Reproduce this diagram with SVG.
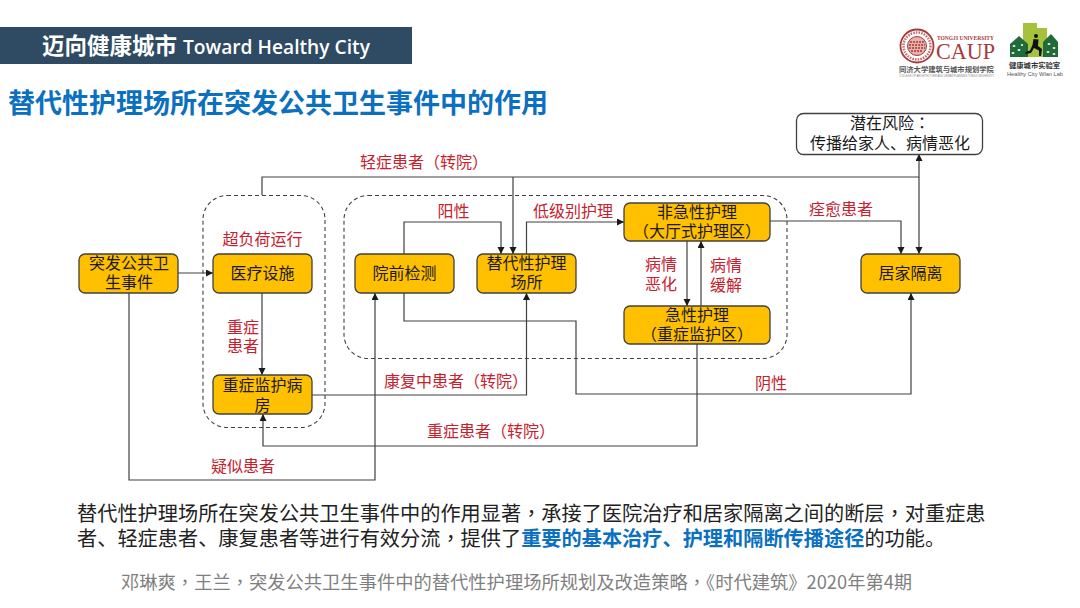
<svg xmlns="http://www.w3.org/2000/svg" width="1080" height="608" viewBox="0 0 1080 608">
<style>
text{font-family:"Noto Sans CJK SC","Liberation Sans",sans-serif}
.n{fill:#ffc000;stroke:#404040;stroke-width:1.3}
.t{font-size:16px;fill:#1a1a1a;text-anchor:middle}
.r{font-size:16px;fill:#c8202c;text-anchor:middle}
.c{fill:none;stroke:#404040;stroke-width:1.2}
.d{fill:none;stroke:#404040;stroke-width:1.1;stroke-dasharray:4 3}
.p{font-family:"Noto Sans CJK TC",sans-serif}
.lf{fill:#e6f0d8}
</style>
<defs>
<marker id="a" markerWidth="8" markerHeight="8" refX="7" refY="3.500" orient="auto" markerUnits="userSpaceOnUse"><path d="M0 0L7 3.500L0 7z" fill="#1a1a1a"/></marker>
</defs>
<rect width="1080" height="608" fill="#fff"/>
<g id="header">
<rect x="0" y="27" width="412" height="37" fill="#2f4a63"/>
<text x="42" y="53.500" font-size="22.500" font-weight="700" fill="#fff">迈向健康城市<tspan font-family="'Open Sans','Liberation Sans',sans-serif" font-size="19.200" font-weight="600" dx="6">Toward Healthy City</tspan></text>
<text x="8" y="113" font-size="27" font-weight="700" fill="#0b70c0">替代性护理场所在突发公共卫生事件中的作用</text>
</g>
<g id="logos">
<circle cx="917" cy="46" r="16.500" fill="#fff" stroke="#a8393a" stroke-width="1.800"/>
<circle cx="917" cy="46" r="13.500" fill="none" stroke="#c06a6a" stroke-width="2.500" stroke-dasharray="1.500 1.200"/>
<circle cx="917" cy="46" r="9.500" fill="#e3b3ac" stroke="#a8393a"/>
<path d="M910 42h14M909 45h16M909 48h16M911 51h12" stroke="#a8393a" stroke-width="1.300" stroke-dasharray="2 1" fill="none"/>
<text x="937" y="39.500" font-size="6" font-weight="700" fill="#a8393a" style="font-family:'Liberation Serif',serif" textLength="57" lengthAdjust="spacingAndGlyphs">TONGJI UNIVERSITY</text>
<text x="936" y="59" font-size="24" fill="#a8393a" style="font-family:'Liberation Serif',serif" textLength="59" lengthAdjust="spacingAndGlyphs">CAUP</text>
<text x="899" y="72" font-size="7.300" font-weight="700" fill="#555">同济大学建筑与城市规划学院</text>
<text x="899" y="76.500" font-size="3" fill="#888" style="font-family:'Liberation Sans',sans-serif" textLength="95" lengthAdjust="spacingAndGlyphs">COLLEGE OF ARCHITECTURE AND URBAN PLANNING TONGJI UNIVERSITY</text>
<rect x="1023" y="23" width="14" height="34" fill="#a6c13c"/>
<rect x="1037" y="28" width="10" height="29" fill="#a6c13c"/>
<path d="M1010 57V44L1019 36L1028 44V57z" fill="#1f6b3a"/>
<path d="M1043 57V42L1051 34L1058 42V57z" fill="#1f6b3a"/>
<ellipse class="lf" cx="1014" cy="46" rx="1.500" ry="1"/><ellipse class="lf" cx="1019" cy="50" rx="1.500" ry="1"/><ellipse class="lf" cx="1013" cy="53" rx="1.500" ry="1"/><ellipse class="lf" cx="1022" cy="45" rx="1.200" ry="1"/>
<ellipse class="lf" cx="1049" cy="44" rx="1.500" ry="1"/><ellipse class="lf" cx="1054" cy="48" rx="1.500" ry="1"/><ellipse class="lf" cx="1048" cy="52" rx="1.500" ry="1"/><ellipse class="lf" cx="1054" cy="54" rx="1.500" ry="1"/>
<circle cx="1036" cy="36" r="2" fill="#111"/>
<path d="M1033.500 39L1038.500 39.500L1038 46L1042 49L1041 56L1039 56L1039 50.500L1034 48L1031 53L1025.500 54L1025.500 52L1030 50.500L1032.500 45z" fill="#111"/>
<text x="1009" y="68" font-size="7.300" font-weight="700" fill="#333">健康城市实验室</text>
<text x="1007" y="76" font-size="5.800" fill="#555" style="font-family:'Liberation Sans',sans-serif" textLength="56" lengthAdjust="spacingAndGlyphs">Healthy City Wlan Lab</text>
</g>
<g id="connectors">
<rect class="d" x="203" y="195.500" width="122" height="232" rx="24"/>
<rect class="d" x="344" y="195.500" width="443" height="163" rx="24"/>
<path class="c" d="M178 273H213" marker-end="url(#a)"/>
<path class="c" d="M129 293V480H375V293" marker-end="url(#a)"/>
<path class="c" d="M262 293V375" marker-end="url(#a)"/>
<path class="c" d="M312 395H526.500V293" marker-end="url(#a)"/>
<path class="c" d="M697 344V446H263V414" marker-end="url(#a)"/>
<path class="c" d="M404 254V222H501V254" marker-end="url(#a)"/>
<path class="c" d="M404 293V321H576V394H911V293" marker-end="url(#a)"/>
<path class="c" d="M262 195V177H919V154" marker-end="url(#a)"/>
<path class="c" d="M919 177V254" marker-end="url(#a)"/>
<path class="c" d="M513 177V254" marker-end="url(#a)"/>
<path class="c" d="M526.500 254V222H624" marker-end="url(#a)"/>
<path class="c" d="M770 221H901V254" marker-end="url(#a)"/>
<path class="c" d="M687 241V306" marker-end="url(#a)"/>
<path class="c" d="M701 306V241" marker-end="url(#a)"/>
</g>
<g id="n1"><rect class="n" x="79" y="254" width="99" height="39" rx="6"/><text class="t" x="129" y="269">突发公共卫</text><text class="t" x="129" y="288">生事件</text></g>
<g id="n2"><rect class="n" x="213" y="254" width="99" height="39" rx="6"/><text class="t" x="262.500" y="279">医疗设施</text></g>
<g id="n3"><rect class="n" x="213" y="375" width="99" height="39" rx="6"/><text class="t" x="262.500" y="391">重症监护病</text><text class="t" x="262.500" y="411">房</text></g>
<g id="n4"><rect class="n" x="355" y="254" width="99" height="39" rx="6"/><text class="t" x="404.500" y="279">院前检测</text></g>
<g id="n5"><rect class="n" x="477" y="254" width="99" height="39" rx="6"/><text class="t" x="526.500" y="269">替代性护理</text><text class="t" x="526.500" y="288">场所</text></g>
<g id="n6"><rect class="n" x="624" y="203" width="146" height="38" rx="6"/><text class="t" x="697" y="218">非急性护理</text><text class="t" x="697" y="237">（大厅式护理区）</text></g>
<g id="n7"><rect class="n" x="624" y="306" width="146" height="38" rx="6"/><text class="t" x="697" y="321">急性护理</text><text class="t" x="697" y="340">（重症监护区）</text></g>
<g id="n8"><rect class="n" x="861" y="254" width="99" height="39" rx="6"/><text class="t" x="910.500" y="279">居家隔离</text></g>
<g id="n9"><rect x="796.500" y="113.500" width="186" height="41" rx="7" fill="#fff" stroke="#404040" stroke-width="1.300"/><text class="t" x="890" y="129">潜在风险<tspan class="p">：</tspan></text><text class="t" x="890" y="149">传播给家人、病情恶化</text></g>
<g id="labels">
<text class="r" x="424" y="168">轻症患者（转院）</text>
<text class="r" x="262.500" y="245">超负荷运行</text>
<text class="r" x="243" y="333">重症</text><text class="r" x="243" y="352">患者</text>
<text class="r" x="453.500" y="217">阳性</text>
<text class="r" x="573" y="217">低级别护理</text>
<text class="r" x="841" y="215">痊愈患者</text>
<text class="r" x="661" y="270">病情</text><text class="r" x="661" y="290">恶化</text>
<text class="r" x="726" y="271">病情</text><text class="r" x="726" y="291">缓解</text>
<text class="r" x="456" y="387">康复中患者（转院）</text>
<text class="r" x="771" y="389">阴性</text>
<text class="r" x="491" y="437">重症患者（转院）</text>
<text class="r" x="243" y="472">疑似患者</text>
</g>
<g id="caption">
<text x="77" y="521" font-size="20.200" fill="#222">替代性护理场所在突发公共卫生事件中的作用显著<tspan class="p">，</tspan>承接了医院治疗和居家隔离之间的断层<tspan class="p">，</tspan>对重症患</text>
<text x="77" y="546" font-size="20.200" fill="#222">者、轻症患者、康复患者等进行有效分流<tspan class="p">，</tspan>提供了<tspan font-weight="700" fill="#0b70c0">重要的基本治疗、护理和隔断传播途径</tspan>的功能。</text>
<text x="121" y="589" font-size="18.300" fill="#7f7f7f">邓琳爽<tspan class="p">，</tspan>王兰<tspan class="p">，</tspan>突发公共卫生事件中的替代性护理场所规划及改造策略<tspan class="p">，</tspan>《时代建筑》2020年第4期</text>
</g>
</svg>
